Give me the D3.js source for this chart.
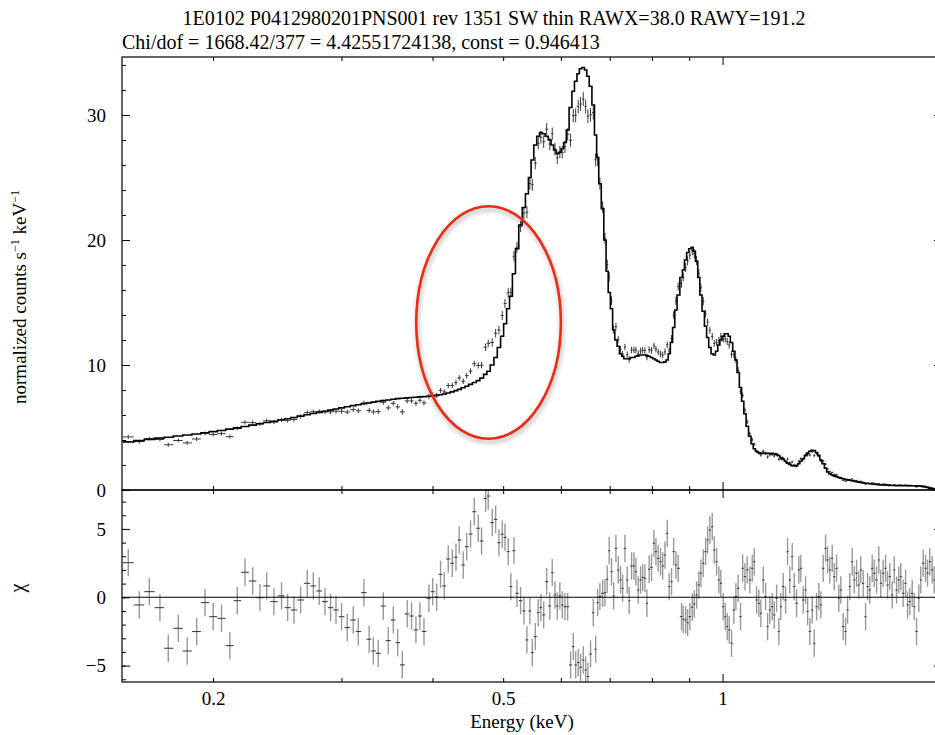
<!DOCTYPE html>
<html><head><meta charset="utf-8">
<script src="https://cdn.jsdelivr.net/npm/d3@7"></script>
<style>
body{margin:0;background:#fff}
svg{display:block}
text{font-family:"Liberation Serif","Times New Roman",serif;fill:#000}
</style>
</head><body>
<svg id="c" width="935" height="735"></svg>
<script>
// ---------------- DATA ----------------
const titleLine1 = "1E0102 P0412980201PNS001 rev 1351 SW thin RAWX=38.0 RAWY=191.2";
const titleLine2 = "Chi/dof = 1668.42/377 = 4.42551724138, const = 0.946413";

// bin centre energies (keV)
const energy = [
0.1530,0.1584,0.1635,0.1691,0.1736,0.1792,0.1843,0.1899,0.1950,0.2001,
0.2054,0.2109,0.2159,0.2212,0.2267,0.2319,0.2369,0.2424,0.2483,0.2531,
0.2582,0.2637,0.2693,0.2745,0.2797,0.2848,0.2899,0.2949,0.3001,0.3056,
0.3114,0.3164,0.3221,0.3275,0.3318,0.3370,0.3424,0.3478,0.3534,0.3583,
0.3636,0.3693,0.3744,0.3796,0.3844,0.3894,0.3955,0.4002,0.4053,0.4103,
0.4151,0.4204,0.4258,0.4308,0.4352,0.4408,0.4456,0.4511,0.4564,0.4622,
0.4670,0.4731,0.4770,0.4831,0.4883,0.4934,0.4986,0.5029,0.5081,0.5123,
0.5174,0.5223,0.5283,0.5340,0.5390,0.5441,0.5482,0.5534,0.5586,0.5633,
0.5683,0.5737,0.5795,0.5839,0.5889,0.5932,0.5981,0.6027,0.6078,0.6130,
0.6187,0.6240,0.6287,0.6338,0.6385,0.6440,0.6489,0.6535,0.6590,0.6647,
0.6697,0.6739,0.6787,0.6847,0.6897,0.6946,0.6990,0.7042,0.7089,0.7140,
0.7192,0.7245,0.7293,0.7346,0.7399,0.7445,0.7501,0.7558,0.7606,0.7661,
0.7718,0.7769,0.7825,0.7874,0.7931,0.7990,0.8051,0.8102,0.8160,0.8221,
0.8276,0.8336,0.8396,0.8448,0.8511,0.8568,0.8630,0.8692,0.8784,0.8832,
0.8899,0.8954,0.9018,0.9087,0.9144,0.9213,0.9279,0.9337,0.9408,0.9479,
0.9538,0.9606,0.9679,0.9740,0.9814,0.9884,0.9945,1.0021,1.0085,1.0148,
1.0211,1.0287,1.0365,1.0430,1.0505,1.0584,1.0655,1.0732,1.0809,1.0900,
1.0982,1.1052,1.1135,1.1215,1.1284,1.1371,1.1457,1.1528,1.1610,1.1698,
1.1772,1.1861,1.1946,1.2020,1.2112,1.2203,1.2279,1.2367,1.2461,1.2540,
1.2634,1.2725,1.2804,1.2902,1.2999,1.3081,1.3174,1.3274,1.3358,1.3458,
1.3555,1.3639,1.3742,1.3846,1.3933,1.4032,1.4138,1.4228,1.4335,1.4438,
1.4527,1.4638,1.4749,1.4841,1.4947,1.5060,1.5156,1.5270,1.5379,1.5474,
1.5593,1.5711,1.5809,1.5922,1.6042,1.6144,1.6265,1.6382,1.6483,1.6609,
1.6735,1.6839,1.6960,1.7088,1.7196,1.7326,1.7450,1.7558,1.7692,1.7826,
1.7938,1.8066,1.8202,1.8317,1.8455,1.8588,1.8703,1.8845,1.8988,1.9107,
1.9243,1.9388,1.9511];

// folded model (normalized counts s^-1 keV^-1)
const model = [
3.85,3.95,4.05,4.15,4.22,4.32,4.40,4.48,4.58,4.67,
4.76,4.87,4.97,5.08,5.19,5.30,5.40,5.49,5.60,5.70,
5.80,5.91,6.02,6.12,6.21,6.30,6.39,6.48,6.57,6.66,
6.75,6.82,6.90,6.97,7.03,7.09,7.15,7.20,7.26,7.31,
7.34,7.37,7.40,7.42,7.45,7.47,7.50,7.52,7.57,7.62,
7.68,7.76,7.85,7.95,8.05,8.18,8.30,8.45,8.60,8.75,
8.95,9.25,9.50,10.0,10.6,11.4,12.3,13.3,14.5,15.5,
17.3,19.3,21.2,22.6,23.7,25.0,26.4,27.6,28.3,28.6,
28.5,28.3,28.0,27.6,27.2,26.9,27.0,27.3,27.8,28.8,
30.6,31.9,32.7,33.3,33.7,33.8,33.6,33.1,32.3,30.8,
28.4,26.6,24.5,22.5,20.0,17.5,15.8,14.5,12.8,12.0,
11.5,10.9,10.7,10.5,10.5,10.5,10.6,10.6,10.7,10.75,
10.8,10.8,10.8,10.75,10.7,10.6,10.5,10.4,10.3,10.2,
10.2,10.25,10.4,10.9,11.8,13.0,14.4,15.6,17.0,17.6,
18.4,19.0,19.3,19.4,19.1,18.3,17.0,15.6,14.3,13.1,
12.2,11.4,10.9,10.8,11.1,11.6,12.0,12.3,12.5,12.5,
12.3,11.8,11.1,10.4,9.4,8.2,7.1,6.1,5.1,4.3,
3.7,3.3,3.1,3.0,2.95,2.93,2.93,2.93,2.93,2.93,
2.9,2.85,2.75,2.6,2.45,2.3,2.15,2.05,1.95,1.92,
1.95,2.1,2.3,2.5,2.75,2.95,3.1,3.18,3.15,3.0,
2.75,2.4,2.1,1.75,1.45,1.3,1.2,1.13,1.07,1.0,
0.95,0.9,0.85,0.82,0.78,0.74,0.70,0.66,0.63,0.60,
0.57,0.54,0.52,0.50,0.48,0.46,0.44,0.42,0.41,0.40,
0.39,0.38,0.37,0.36,0.36,0.35,0.35,0.35,0.35,0.35,
0.35,0.35,0.34,0.34,0.33,0.32,0.30,0.27,0.24,0.20,
0.15,0.11,0.08];

// measured spectrum
const counts = [
4.25,3.87,4.11,4.04,3.62,3.96,3.77,4.08,4.52,4.44,
4.51,4.27,4.93,5.42,5.39,5.29,5.54,5.44,5.62,5.57,
5.64,5.88,6.19,6.26,6.29,6.25,6.25,6.30,6.30,6.24,
6.43,6.34,6.96,6.36,6.24,6.27,7.02,6.57,6.93,6.65,
6.25,7.13,7.13,6.94,7.18,6.97,7.49,7.60,7.57,7.97,
7.85,8.35,8.37,8.59,8.97,8.70,9.15,9.51,10.10,9.96,
9.98,11.42,11.72,11.80,12.54,12.80,13.96,14.92,15.77,15.80,
18.70,19.42,21.09,22.14,22.23,24.52,24.42,26.16,27.74,28.22,
27.86,28.87,27.68,28.50,27.29,26.58,27.05,27.02,27.46,28.45,
27.98,29.95,29.98,30.67,30.88,31.28,30.67,29.91,30.02,30.19,
26.42,26.40,24.52,22.63,20.15,18.03,17.06,15.15,12.83,13.07,
12.06,11.24,10.87,11.43,10.83,10.44,11.20,11.20,11.19,10.89,
11.13,11.18,11.16,10.64,11.23,11.17,11.53,11.27,11.04,10.88,
10.80,11.05,11.62,11.11,12.12,14.00,15.13,16.28,16.52,17.04,
17.80,18.33,18.79,19.14,18.92,18.36,17.32,16.18,15.10,14.10,
13.42,12.78,12.29,11.73,11.80,11.96,12.29,12.10,12.09,11.88,
11.61,10.86,10.85,10.41,9.57,7.87,7.57,6.40,5.46,4.50,
4.02,3.66,3.07,2.94,2.80,3.09,2.94,2.65,2.81,2.84,
2.73,2.84,2.45,2.52,2.54,2.28,2.48,2.18,2.25,2.00,
1.91,2.30,2.51,2.48,2.81,2.82,2.80,3.07,2.75,2.92,
2.76,2.34,2.31,2.07,1.67,1.46,1.40,1.24,1.22,1.00,
0.98,0.77,0.70,0.76,0.83,0.88,0.77,0.76,0.68,0.70,
0.62,0.47,0.56,0.53,0.58,0.54,0.50,0.53,0.45,0.47,
0.47,0.42,0.43,0.37,0.43,0.37,0.39,0.40,0.36,0.39,
0.33,0.34,0.35,0.32,0.24,0.32,0.34,0.34,0.30,0.25,
0.22,0.16,0.11];

// 1-sigma errors of the spectrum
const countErr = [
0.16,0.15,0.15,0.15,0.16,0.16,0.16,0.16,0.16,0.16,
0.16,0.16,0.16,0.17,0.17,0.17,0.17,0.17,0.17,0.17,
0.17,0.17,0.17,0.17,0.17,0.17,0.19,0.19,0.19,0.19,
0.19,0.19,0.19,0.20,0.20,0.20,0.20,0.20,0.20,0.20,
0.22,0.20,0.20,0.20,0.20,0.20,0.20,0.20,0.20,0.21,
0.21,0.21,0.21,0.22,0.22,0.22,0.23,0.23,0.24,0.24,
0.25,0.30,0.30,0.33,0.34,0.35,0.36,0.37,0.38,0.39,
0.41,0.43,0.45,0.46,0.47,0.48,0.49,0.50,0.50,0.50,
0.50,0.50,0.50,0.50,0.50,0.50,0.50,0.50,0.50,0.50,
0.53,0.54,0.55,0.55,0.55,0.55,0.55,0.55,0.55,0.54,
0.52,0.50,0.48,0.46,0.43,0.40,0.37,0.35,0.32,0.30,
0.28,0.27,0.26,0.26,0.26,0.26,0.26,0.26,0.26,0.26,
0.26,0.26,0.26,0.26,0.26,0.26,0.26,0.26,0.26,0.26,
0.26,0.26,0.26,0.27,0.28,0.30,0.31,0.32,0.34,0.35,
0.36,0.36,0.36,0.36,0.36,0.36,0.35,0.33,0.32,0.30,
0.29,0.28,0.27,0.27,0.27,0.28,0.28,0.29,0.29,0.29,
0.29,0.28,0.27,0.26,0.25,0.23,0.22,0.20,0.18,0.16,
0.15,0.14,0.13,0.13,0.13,0.13,0.13,0.13,0.13,0.13,
0.13,0.13,0.12,0.12,0.11,0.11,0.10,0.10,0.10,0.10,
0.10,0.10,0.10,0.11,0.11,0.12,0.12,0.12,0.12,0.12,
0.12,0.11,0.10,0.09,0.08,0.08,0.07,0.07,0.07,0.065,
0.065,0.06,0.06,0.06,0.06,0.055,0.055,0.055,0.055,0.05,
0.05,0.05,0.05,0.05,0.045,0.045,0.045,0.04,0.04,0.04,
0.04,0.04,0.04,0.04,0.035,0.035,0.035,0.035,0.035,0.035,
0.035,0.035,0.035,0.035,0.035,0.035,0.03,0.03,0.03,0.03,
0.025,0.025,0.025];

// residuals (chi)
const chi = [
2.53,-0.56,0.41,-0.76,-3.73,-2.27,-3.93,-2.51,-0.39,-1.42,
-1.54,-3.54,-0.25,1.83,1.19,-0.03,0.83,-0.32,0.10,-0.76,
-0.93,-0.20,1.02,0.83,0.46,-0.32,-0.76,-0.93,-1.42,-2.22,
-1.66,-2.51,0.34,-3.07,-3.93,-4.10,-0.64,-3.17,-1.66,-3.32,
-4.95,-1.22,-1.37,-2.39,-1.37,-2.51,-0.07,0.41,0.00,1.68,
0.83,2.80,2.49,2.93,4.19,2.36,3.70,4.63,6.26,5.05,
4.12,7.24,7.41,5.46,5.70,3.99,4.61,4.39,3.34,0.78,
3.41,0.29,-0.25,-1.00,-3.12,-1.00,-4.05,-2.88,-1.13,-0.76,
-1.29,1.14,-0.64,1.80,0.17,-0.64,0.10,-0.56,-0.69,-0.69,
-4.95,-3.61,-4.95,-4.78,-5.12,-4.59,-5.32,-5.80,-4.15,-1.13,
-3.80,-0.39,0.05,0.29,0.34,1.32,3.41,1.87,0.10,3.58,
2.00,1.27,0.66,3.58,1.27,-0.25,2.29,2.29,1.87,0.53,
1.27,1.46,1.39,-0.44,2.05,2.19,3.95,3.34,2.85,2.60,
2.29,3.09,4.68,0.78,1.14,3.34,2.36,2.12,-1.42,-1.61,
-1.66,-1.86,-1.42,-0.73,-0.49,0.17,0.90,1.76,2.49,3.34,
4.19,4.92,5.16,3.46,2.60,1.27,1.02,-0.69,-1.42,-2.15,
-2.39,-3.36,-0.93,0.05,0.66,-1.42,2.12,1.51,2.00,1.27,
2.12,2.60,-0.20,-0.44,-1.17,1.27,0.05,-2.15,-0.93,-0.69,
-1.29,-0.07,-2.51,-0.69,0.78,-0.20,3.34,1.27,2.97,0.78,
-0.44,2.00,2.12,-0.20,0.53,-1.05,-2.51,-0.93,-3.36,-0.69,
0.05,-0.56,2.12,3.58,2.73,2.00,2.85,1.51,2.12,-0.07,
0.53,-2.15,-2.51,-0.93,0.78,2.60,1.27,1.76,0.90,2.00,
1.02,-1.42,0.78,0.53,2.12,1.76,1.27,2.73,1.02,1.76,
2.12,0.90,1.51,0.17,2.00,0.53,1.27,1.51,0.29,1.02,
-0.56,-0.32,0.29,-0.69,-2.51,-0.07,1.27,2.49,2.12,1.76,
2.60,2.00,1.27];

// axis ticks
const xTickLabels = [0.2, 0.5, 1];
const xMinorTicks = [0.2,0.3,0.4,0.5,0.6,0.7,0.8,0.9,2];
const xMajorTicks = [1];
const yTopTicks = [0,10,20,30];
const yChiTicks = [-5,0,5];

// highlighted region (red ellipse), in data units
const highlightEnergy = [0.38, 0.60];
const highlightCounts = [4.1, 22.7];

// ---------------- LAYOUT ----------------
const L=122, R=942, T=57, MID=490, B=682;
const FS=19;
const svg=d3.select("#c");
svg.append("rect").attr("width",935).attr("height",735).attr("fill","#fff");

const x=d3.scaleLog().domain([0.15,2.0]).range([L,R]);
const yTop=d3.scaleLinear().domain([0,34.64]).range([MID,T]);
const yChi=d3.scaleLinear().domain([-6.2,7.85]).range([B,MID]);

const defs=svg.append("defs");
defs.append("clipPath").attr("id","cTop").append("rect").attr("x",L).attr("y",T).attr("width",R-L).attr("height",MID-T);
defs.append("clipPath").attr("id","cChi").append("rect").attr("x",L).attr("y",MID).attr("width",R-L).attr("height",B-MID);
const f=defs.append("filter").attr("id","shadow").attr("x","-20%").attr("y","-20%").attr("width","140%").attr("height","140%");
f.append("feDropShadow").attr("dx",1).attr("dy",3).attr("stdDeviation",2.5).attr("flood-color","#000").attr("flood-opacity",0.35);

// bin edges (geometric midpoints)
const n=energy.length;
const lo=[], hi=[];
for(let i=0;i<n;i++){
  lo.push(i>0?Math.sqrt(energy[i-1]*energy[i]):energy[0]/Math.sqrt(energy[1]/energy[0]));
  hi.push(i<n-1?Math.sqrt(energy[i]*energy[i+1]):energy[n-1]*Math.sqrt(energy[n-1]/energy[n-2]));
}
const idx=d3.range(n);

// header
svg.append("text").attr("x",494).attr("y",25).attr("text-anchor","middle").attr("font-size",20).text(titleLine1);
svg.append("text").attr("x",L).attr("y",49).attr("font-size",20).text(titleLine2);

// ---------- top panel ----------
const gTop=svg.append("g").attr("clip-path","url(#cTop)");
gTop.append("g").selectAll("line.h").data(idx).join("line")
  .attr("x1",i=>x(lo[i])).attr("x2",i=>x(hi[i]))
  .attr("y1",i=>yTop(counts[i])).attr("y2",i=>yTop(counts[i]))
  .attr("stroke","#3a3a3a").attr("stroke-width",1);
gTop.append("g").selectAll("line.v").data(idx).join("line")
  .attr("x1",i=>x(energy[i])).attr("x2",i=>x(energy[i]))
  .attr("y1",i=>yTop(counts[i]-countErr[i])).attr("y2",i=>yTop(counts[i]+countErr[i]))
  .attr("stroke","#3a3a3a").attr("stroke-width",1);

const stepPts=idx.map(i=>[lo[i],model[i]]).concat([[hi[n-1],model[n-1]]]);
gTop.append("path").attr("d",d3.line().x(d=>x(d[0])).y(d=>yTop(d[1])).curve(d3.curveStepAfter)(stepPts))
  .attr("fill","none").attr("stroke","#000").attr("stroke-width",1.6);

// ---------- chi panel ----------
const gChi=svg.append("g").attr("clip-path","url(#cChi)");
gChi.append("g").selectAll("line").data(idx).join("line")
  .attr("x1",i=>x(energy[i])).attr("x2",i=>x(energy[i]))
  .attr("y1",i=>yChi(chi[i]-1)).attr("y2",i=>yChi(chi[i]+1))
  .attr("stroke","#999").attr("stroke-width",1.4);
gChi.append("g").selectAll("line").data(idx).join("line")
  .attr("x1",i=>x(lo[i])).attr("x2",i=>x(hi[i]))
  .attr("y1",i=>yChi(chi[i])).attr("y2",i=>yChi(chi[i]))
  .attr("stroke","#333").attr("stroke-width",1);
gChi.append("line").attr("x1",L).attr("x2",R).attr("y1",yChi(0)).attr("y2",yChi(0)).attr("stroke","#000").attr("stroke-width",1.2);

// frames
svg.append("rect").attr("x",L).attr("y",T).attr("width",R-L).attr("height",MID-T).attr("fill","none").attr("stroke","#000").attr("stroke-width",1.2);
svg.append("rect").attr("x",L).attr("y",MID).attr("width",R-L).attr("height",B-MID).attr("fill","none").attr("stroke","#000").attr("stroke-width",1.2);

// axes helper
function put(ax, tr){
  const g=svg.append("g").attr("transform",tr).call(ax);
  g.select(".domain").remove();
  g.attr("font-family",'"Liberation Serif","Times New Roman",serif').attr("font-size",FS);
  g.selectAll(".tick line").attr("stroke","#000").attr("stroke-width",1);
  return g;
}
// x ticks
put(d3.axisTop(x).tickValues(xMinorTicks).tickSize(-4).tickFormat(""),`translate(0,${T})`);
put(d3.axisTop(x).tickValues(xMajorTicks).tickSize(-8).tickFormat(""),`translate(0,${T})`);
put(d3.axisBottom(x).tickValues(xMinorTicks).tickSize(-4).tickFormat(""),`translate(0,${MID})`);
put(d3.axisBottom(x).tickValues(xMajorTicks).tickSize(-8).tickFormat(""),`translate(0,${MID})`);
put(d3.axisTop(x).tickValues(xMinorTicks).tickSize(-4).tickFormat(""),`translate(0,${MID})`);
put(d3.axisTop(x).tickValues(xMajorTicks).tickSize(-8).tickFormat(""),`translate(0,${MID})`);
put(d3.axisBottom(x).tickValues(xMinorTicks).tickSize(-4).tickFormat(""),`translate(0,${B})`);
put(d3.axisBottom(x).tickValues(xMajorTicks).tickSize(-8).tickFormat(""),`translate(0,${B})`);
put(d3.axisBottom(x).tickValues(xTickLabels).tickSize(0).tickPadding(9.5).tickFormat(d=>String(d)),`translate(0,${B})`);

// y ticks top
const yTopMinor=d3.range(0,35,2);
put(d3.axisLeft(yTop).tickValues(yTopMinor).tickSize(-4).tickFormat(""),`translate(${L},0)`);
put(d3.axisLeft(yTop).tickValues(yTopTicks).tickSize(-8).tickPadding(16),`translate(${L},0)`);
put(d3.axisRight(yTop).tickValues(yTopMinor).tickSize(-4).tickFormat(""),`translate(${R},0)`);
put(d3.axisRight(yTop).tickValues(yTopTicks).tickSize(-8).tickFormat(""),`translate(${R},0)`);
// y ticks chi
const yChiMinor=d3.range(-6,8,1);
put(d3.axisLeft(yChi).tickValues(yChiMinor).tickSize(-4).tickFormat(""),`translate(${L},0)`);
put(d3.axisLeft(yChi).tickValues(yChiTicks).tickSize(-8).tickPadding(16),`translate(${L},0)`);
put(d3.axisRight(yChi).tickValues(yChiMinor).tickSize(-4).tickFormat(""),`translate(${R},0)`);
put(d3.axisRight(yChi).tickValues(yChiTicks).tickSize(-8).tickFormat(""),`translate(${R},0)`);

// axis titles
svg.append("text").attr("x",522).attr("y",728).attr("text-anchor","middle").attr("font-size",FS).text("Energy (keV)");
const yl=svg.append("text").attr("transform","translate(26,297) rotate(-90)").attr("text-anchor","middle").attr("font-size",FS);
yl.append("tspan").text("normalized counts s");
yl.append("tspan").attr("font-size",12).attr("dy",-7).text("−1");
yl.append("tspan").attr("dy",7).text(" keV");
yl.append("tspan").attr("font-size",12).attr("dy",-7).text("−1");
svg.append("text").attr("transform","translate(24,588) rotate(-90)").attr("text-anchor","middle").attr("font-size",FS+1).text("χ");

// highlight ellipse
const ex0=x(highlightEnergy[0]), ex1=x(highlightEnergy[1]);
const ey0=yTop(highlightCounts[1]), ey1=yTop(highlightCounts[0]);
svg.append("ellipse").attr("cx",(ex0+ex1)/2).attr("cy",(ey0+ey1)/2).attr("rx",(ex1-ex0)/2).attr("ry",(ey1-ey0)/2)
  .attr("fill","none").attr("stroke","#ee2a12").attr("stroke-width",2.6).attr("filter","url(#shadow)");
</script>
</body></html>
